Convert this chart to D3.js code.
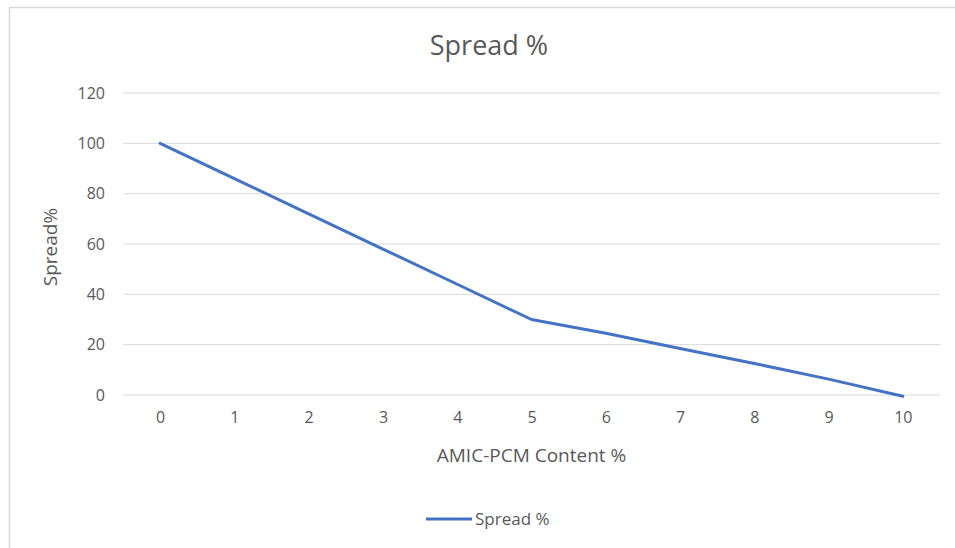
<!DOCTYPE html>
<html>
<head>
<meta charset="utf-8">
<script src="https://cdn.jsdelivr.net/npm/d3@7"></script>
<style>
  body { margin: 0; background: #fff; }
  text { font-family: "Open Sans", "Noto Sans", sans-serif; fill: #595959; }
</style>
</head>
<body>
<svg></svg>
<script>
const content = ['0', '1', '2', '3', '4', '5', '6', '7', '8', '9', '10'];
const spread = [100, 86, 72, 58, 44, 30, 24.5, 18.5, 12.5, 6.3, -0.5];
const yTicks = [0, 20, 40, 60, 80, 100, 120];

const svgWidth = 955;
const svgHeight = 548;
const margin = { top: 93, right: 15, bottom: 153, left: 123 };
const width = svgWidth - margin.left - margin.right;
const height = svgHeight - margin.top - margin.bottom;

const root = d3.select('svg')
    .attr('width', svgWidth)
    .attr('height', svgHeight);

// chart border
root.append('rect')
    .attr('x', 9.5)
    .attr('y', 7.5)
    .attr('width', svgWidth)
    .attr('height', svgHeight)
    .attr('fill', 'none')
    .attr('stroke', '#d9d9d9')
    .attr('stroke-width', 1.5);

const svg = root.append('g')
    .attr('transform', `translate(${margin.left}, ${margin.top})`);

const xScale = d3.scalePoint()
    .domain(content)
    .range([0, width])
    .padding(0.5);

const yScale = d3.scaleLinear()
    .domain([0, 120])
    .range([height, 0]);

// gridlines
svg.append('g')
    .selectAll('line')
    .data(yTicks)
    .enter().append('line')
    .attr('x1', 0)
    .attr('x2', width)
    .attr('y1', d => yScale(d))
    .attr('y2', d => yScale(d))
    .attr('stroke', '#d9d9d9')
    .attr('stroke-width', 1);

const yAxis = svg.append('g')
    .call(d3.axisLeft(yScale).tickValues(yTicks).tickSize(0).tickPadding(18));
yAxis.select('.domain').remove();
yAxis.selectAll('text').attr('font-size', '16px').attr('fill', '#595959');

const xAxis = svg.append('g')
    .attr('transform', `translate(0, ${height})`)
    .call(d3.axisBottom(xScale).tickSize(0).tickPadding(17));
xAxis.select('.domain').remove();
xAxis.selectAll('text').attr('font-size', '16px').attr('fill', '#595959');

const line = d3.line()
    .x((d, i) => xScale(content[i]))
    .y(d => yScale(d));

svg.append('path')
    .datum(spread)
    .attr('d', line)
    .attr('fill', 'none')
    .attr('stroke', '#4472c4')
    .attr('stroke-width', 3)
    .attr('stroke-linejoin', 'round')
    .attr('stroke-linecap', 'round');

// title
root.append('text')
    .attr('x', 489)
    .attr('y', 55)
    .attr('text-anchor', 'middle')
    .attr('font-size', '27px')
    .text('Spread %');

// axis titles
root.append('text')
    .attr('transform', 'translate(57, 247) rotate(-90)')
    .attr('text-anchor', 'middle')
    .attr('font-size', '19px')
    .text('Spread%');

root.append('text')
    .attr('x', margin.left + xScale('5'))
    .attr('y', 462)
    .attr('text-anchor', 'middle')
    .attr('font-size', '19px')
    .text('AMIC-PCM Content %');

// legend
const legend = root.append('g')
    .attr('transform', 'translate(426, 519)');

legend.append('line')
    .attr('x1', 0)
    .attr('x2', 46)
    .attr('y1', 0)
    .attr('y2', 0)
    .attr('stroke', '#4472c4')
    .attr('stroke-width', 3);

legend.append('text')
    .attr('x', 49)
    .attr('y', 6)
    .attr('font-size', '17px')
    .text('Spread %');
</script>
</body>
</html>
